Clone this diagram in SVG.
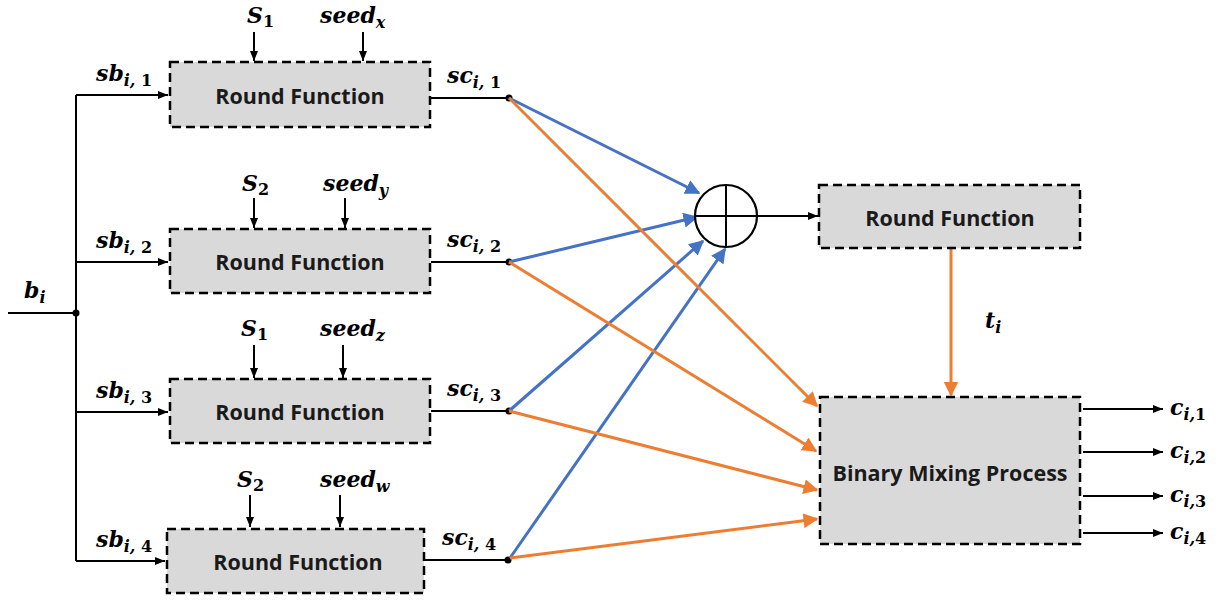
<svg xmlns="http://www.w3.org/2000/svg" width="1221" height="601" viewBox="0 0 1221 601">
<style>
.box{fill:#d9d9d9;stroke:#000;stroke-width:2.5;stroke-dasharray:9 5}
.bt{font-family:"Open Sans","Liberation Sans",sans-serif;font-weight:bold;font-size:21.5px;fill:#1a1a1a;text-anchor:middle}
.m{font-family:"DejaVu Serif","Liberation Serif",serif;font-weight:bold;font-style:italic;font-size:22px;fill:#000}
.sub{font-size:16px}
.up{font-style:normal}
.k{stroke:#000;stroke-width:2;fill:none}
.blue{stroke:#4472c4;stroke-width:3;fill:none}
.orange{stroke:#ed7d31;stroke-width:3;fill:none}
</style>
<defs>
<marker id="ak" viewBox="0 0 10 10" refX="10" refY="5" markerWidth="5" markerHeight="5" orient="auto" markerUnits="strokeWidth"><path d="M0,1 L10,5 L0,9 z" fill="#000"/></marker>
<marker id="ab" viewBox="0 0 10 10" refX="9" refY="5" markerWidth="5" markerHeight="5" orient="auto"><path d="M0,0 L10,5 L0,10 z" fill="#4472c4"/></marker>
<marker id="ao" viewBox="0 0 10 10" refX="9" refY="5" markerWidth="5" markerHeight="5" orient="auto"><path d="M0,0 L10,5 L0,10 z" fill="#ed7d31"/></marker>
</defs>

<g id="connectors">
<path class="k" d="M8,313 H76"/>
<circle cx="76" cy="313" r="3.5" fill="#000"/>
<path class="k" d="M76,95 V561"/>
<path class="k" d="M76,95 H168" marker-end="url(#ak)"/>
<path class="k" d="M76,262 H168" marker-end="url(#ak)"/>
<path class="k" d="M76,412 H168" marker-end="url(#ak)"/>
<path class="k" d="M76,561 H165" marker-end="url(#ak)"/>
<path class="k" d="M254,32 V61" marker-end="url(#ak)"/>
<path class="k" d="M363,32 V61" marker-end="url(#ak)"/>
<path class="k" d="M254,198 V228" marker-end="url(#ak)"/>
<path class="k" d="M345,198 V228" marker-end="url(#ak)"/>
<path class="k" d="M254,345 V378" marker-end="url(#ak)"/>
<path class="k" d="M343,345 V378" marker-end="url(#ak)"/>
<path class="k" d="M250,495 V527" marker-end="url(#ak)"/>
<path class="k" d="M340,495 V527" marker-end="url(#ak)"/>
<path class="k" d="M431,98 H509"/>
<path class="k" d="M431,262 H509"/>
<path class="k" d="M431,411 H509"/>
<path class="k" d="M425,560 H508"/>
<circle cx="509" cy="98" r="3.5" fill="#000"/>
<circle cx="509" cy="262" r="3.5" fill="#000"/>
<circle cx="509" cy="411" r="3.5" fill="#000"/>
<circle cx="508" cy="560" r="3.5" fill="#000"/>
<path class="blue" d="M509,98 L699,193" marker-end="url(#ab)"/>
<path class="blue" d="M509,262 L697,217" marker-end="url(#ab)"/>
<path class="blue" d="M509,411 L703,241" marker-end="url(#ab)"/>
<path class="blue" d="M510,558 L725,249" marker-end="url(#ab)"/>
<path class="orange" d="M509,98 L817,406" marker-end="url(#ao)"/>
<path class="orange" d="M509,262 L816,451" marker-end="url(#ao)"/>
<path class="orange" d="M509,411 L817,490" marker-end="url(#ao)"/>
<path class="orange" d="M510,558 L817,519" marker-end="url(#ao)"/>
<path class="k" d="M757,216 H818" marker-end="url(#ak)"/>
<path class="orange" d="M951,249 V395" marker-end="url(#ao)"/>
<path class="k" d="M1083,409 H1163" marker-end="url(#ak)"/>
<path class="k" d="M1083,452 H1163" marker-end="url(#ak)"/>
<path class="k" d="M1083,496 H1163" marker-end="url(#ak)"/>
<path class="k" d="M1083,533 H1163" marker-end="url(#ak)"/>
</g>

<g id="rf1"><rect class="box" x="170" y="62" width="260" height="65"/><text class="bt" x="300" y="104">Round Function</text></g>
<g id="rf2"><rect class="box" x="170" y="229" width="260" height="64"/><text class="bt" x="300" y="270">Round Function</text></g>
<g id="rf3"><rect class="box" x="170" y="379" width="260" height="64"/><text class="bt" x="300" y="420">Round Function</text></g>
<g id="rf4"><rect class="box" x="167" y="529" width="257" height="64"/><text class="bt" x="298" y="570">Round Function</text></g>
<g id="rf5"><rect class="box" x="819" y="185" width="261" height="63"/><text class="bt" x="950" y="226">Round Function</text></g>
<g id="bmp"><rect class="box" x="820" y="397" width="260" height="147"/><text class="bt" x="950" y="481">Binary Mixing Process</text></g>
<g id="xor">
<circle cx="726" cy="216" r="31" fill="#fff" stroke="#000" stroke-width="2.2"/>
<path class="k" d="M695,216 H757 M726,185 V247"/>
</g>

<g id="labels">
<text class="m" x="24" y="298">b<tspan class="sub" dy="5">i</tspan></text>
<text class="m" x="96" y="81">sb<tspan class="sub" dy="5">i, </tspan><tspan class="sub up">1</tspan></text>
<text class="m" x="96" y="248">sb<tspan class="sub" dy="5">i, </tspan><tspan class="sub up">2</tspan></text>
<text class="m" x="96" y="398">sb<tspan class="sub" dy="5">i, </tspan><tspan class="sub up">3</tspan></text>
<text class="m" x="96" y="547">sb<tspan class="sub" dy="5">i, </tspan><tspan class="sub up">4</tspan></text>
<text class="m" x="447" y="83">sc<tspan class="sub" dy="5">i, </tspan><tspan class="sub up">1</tspan></text>
<text class="m" x="447" y="247">sc<tspan class="sub" dy="5">i, </tspan><tspan class="sub up">2</tspan></text>
<text class="m" x="447" y="396">sc<tspan class="sub" dy="5">i, </tspan><tspan class="sub up">3</tspan></text>
<text class="m" x="442" y="545">sc<tspan class="sub" dy="5">i, </tspan><tspan class="sub up">4</tspan></text>
<text class="m" x="247" y="23">S<tspan class="sub up" dy="4">1</tspan></text>
<text class="m" x="320" y="23">seed<tspan class="sub" dy="5">x</tspan></text>
<text class="m" x="242" y="191">S<tspan class="sub up" dy="4">2</tspan></text>
<text class="m" x="323" y="191">seed<tspan class="sub" dy="5">y</tspan></text>
<text class="m" x="241" y="336">S<tspan class="sub up" dy="4">1</tspan></text>
<text class="m" x="320" y="336">seed<tspan class="sub" dy="5">z</tspan></text>
<text class="m" x="237" y="487">S<tspan class="sub up" dy="4">2</tspan></text>
<text class="m" x="320" y="487">seed<tspan class="sub" dy="5">w</tspan></text>
<text class="m" x="985" y="328">t<tspan class="sub" dy="5">i</tspan></text>
<text class="m" x="1170" y="415">c<tspan class="sub" dy="5">i,</tspan><tspan class="sub up">1</tspan></text>
<text class="m" x="1170" y="458">c<tspan class="sub" dy="5">i,</tspan><tspan class="sub up">2</tspan></text>
<text class="m" x="1170" y="502">c<tspan class="sub" dy="5">i,</tspan><tspan class="sub up">3</tspan></text>
<text class="m" x="1170" y="539">c<tspan class="sub" dy="5">i,</tspan><tspan class="sub up">4</tspan></text>
</g>
</svg>
